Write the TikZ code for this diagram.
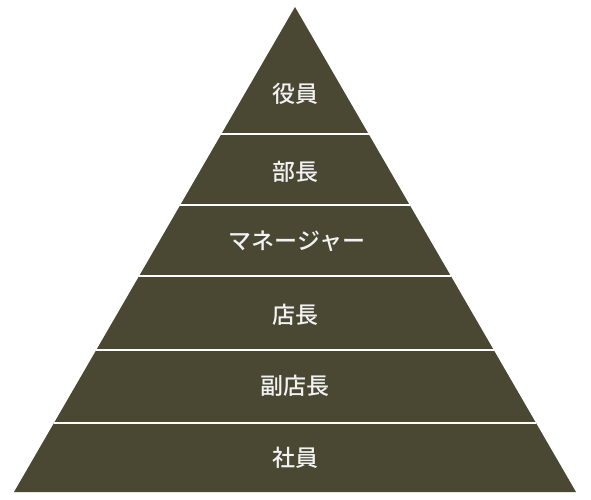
\documentclass[tikz,border=0pt]{standalone}
\usepackage{fontspec}
\newfontfamily\jpfont{Noto Sans CJK JP Medium}
\definecolor{pyr}{HTML}{4A4733}
\definecolor{txt}{HTML}{F2F2F2}
\begin{document}
\begin{tikzpicture}[x=1pt,y=-1pt,
  sep/.style={white,line width=1.5pt},
  lbl/.style={text=txt,font=\jpfont\fontsize{23}{27}\selectfont}]
\useasboundingbox (0,0) rectangle (591,499);
\coordinate (A) at (295,7);
\coordinate (BL) at (14,492);
\coordinate (BR) at (576,492);
\fill[pyr] (A) -- (BL) -- (BR) -- cycle;
\foreach \y [count=\i] in {134,205,276,350,423}{
  \pgfmathsetmacro\w{(\y-7)/485*281}
  \coordinate (L\i) at ({295-\w},\y);
  \coordinate (R\i) at ({295+\w},\y);
  \draw[sep] (L\i) -- (R\i);
}
\node[lbl] (n1) at (295,94) {役員};
\node[lbl] (n2) at (295,172) {部長};
\node[lbl] (n3) at (297,241) {マネージャー};
\node[lbl] (n4) at (295,315) {店長};
\node[lbl] (n5) at (295,386) {副店長};
\node[lbl] (n6) at (295,458) {社員};
\end{tikzpicture}
\end{document}
